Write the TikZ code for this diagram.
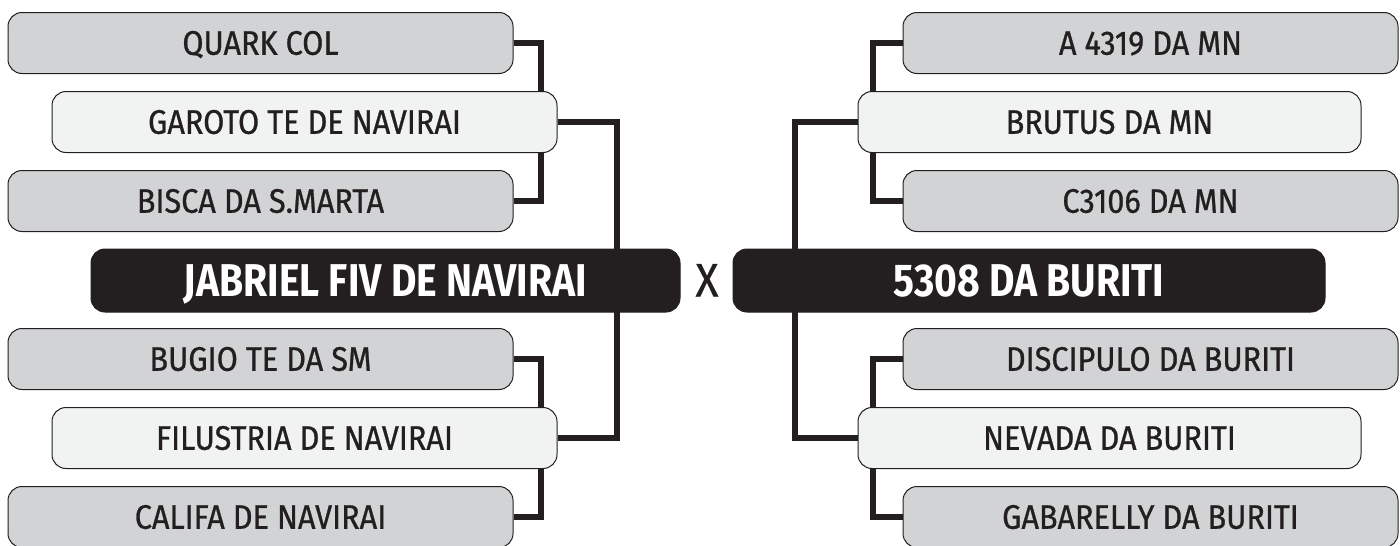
\documentclass[tikz,border=0pt]{standalone}
\usepackage{fontspec}
\setmainfont{Fira Sans}[FakeStretch=0.9, FakeBold=0.8]
\newfontfamily\boldf{Fira Sans}[FakeStretch=0.85]
\usetikzlibrary{backgrounds}
\definecolor{ink}{HTML}{231F20}
\definecolor{boxgray}{HTML}{D1D3D4}
\definecolor{boxlight}{HTML}{F1F2F2}
\begin{document}
\begin{tikzpicture}[x=1pt,y=-1pt,
  cardbase/.style={rounded corners=14pt, draw=ink, line width=1pt, minimum height=61pt,
    inner sep=0pt, text=ink, font=\fontsize{34}{34}\selectfont, text height=23.5pt, text depth=0pt},
  graycard/.style={cardbase, fill=boxgray},
  lightcard/.style={cardbase, fill=boxlight},
  champcard/.style={cardbase, fill=ink, draw=ink, text=white, minimum height=63pt,
    font=\boldf\bfseries\fontsize{46}{46}\selectfont, text height=31.5pt},
  conn/.style={draw=ink, line width=5.5pt},
  vslabel/.style={text=ink, font=\fontsize{47}{47}\selectfont, text height=32pt, text depth=0pt, inner sep=0pt}]
\useasboundingbox (0,0) rectangle (1400,546);
% left side
\node[graycard, minimum width=505pt] (q) at (260.5,43) {QUARK COL};
\node[lightcard, minimum width=505pt] (g) at (304.5,122) {GAROTO TE DE NAVIRAI};
\node[graycard, minimum width=505pt] (b) at (260.5,201) {BISCA DA S.MARTA};
\node[champcard, minimum width=589pt] (jl) at (385.5,280.5) {JABRIEL FIV DE NAVIRAI};
\node[graycard, minimum width=505pt] (bu) at (260.5,359) {BUGIO TE DA SM};
\node[lightcard, minimum width=505pt] (f) at (304.5,438) {FILUSTRIA DE NAVIRAI};
\node[graycard, minimum width=505pt] (ca) at (260.5,517) {CALIFA DE NAVIRAI};
% vs
\node[vslabel] (vs) at (707,280.5) {X};
% right side
\node[graycard, minimum width=495pt] (a) at (1150.5,43) {A 4319 DA MN};
\node[lightcard, minimum width=503pt] (br) at (1109.5,122) {BRUTUS DA MN};
\node[graycard, minimum width=495pt] (c) at (1150.5,201) {C3106 DA MN};
\node[champcard, minimum width=592pt] (jr) at (1029,280.5) {5308 DA BURITI};
\node[graycard, minimum width=495pt] (d) at (1150.5,359) {DISCIPULO DA BURITI};
\node[lightcard, minimum width=503pt] (nv) at (1109.5,438) {NEVADA DA BURITI};
\node[graycard, minimum width=495pt] (gb) at (1150.5,517) {GABARELLY DA BURITI};
% spines
\coordinate (lin) at (541,0);
\coordinate (lout) at (617,0);
\coordinate (rin) at (873,0);
\coordinate (rout) at (795,0);
\begin{scope}[on background layer]
\draw[conn] (q.east) -- (q.east -| lin) -- (b.east -| lin) -- (b.east);
\draw[conn] (bu.east) -- (bu.east -| lin) -- (ca.east -| lin) -- (ca.east);
\draw[conn] (g.east) -- (g.east -| lout) -- (f.east -| lout) -- (f.east);
\draw[conn] (a.west) -- (a.west -| rin) -- (c.west -| rin) -- (c.west);
\draw[conn] (d.west) -- (d.west -| rin) -- (gb.west -| rin) -- (gb.west);
\draw[conn] (br.west) -- (br.west -| rout) -- (nv.west -| rout) -- (nv.west);
\end{scope}
\end{tikzpicture}
\end{document}
